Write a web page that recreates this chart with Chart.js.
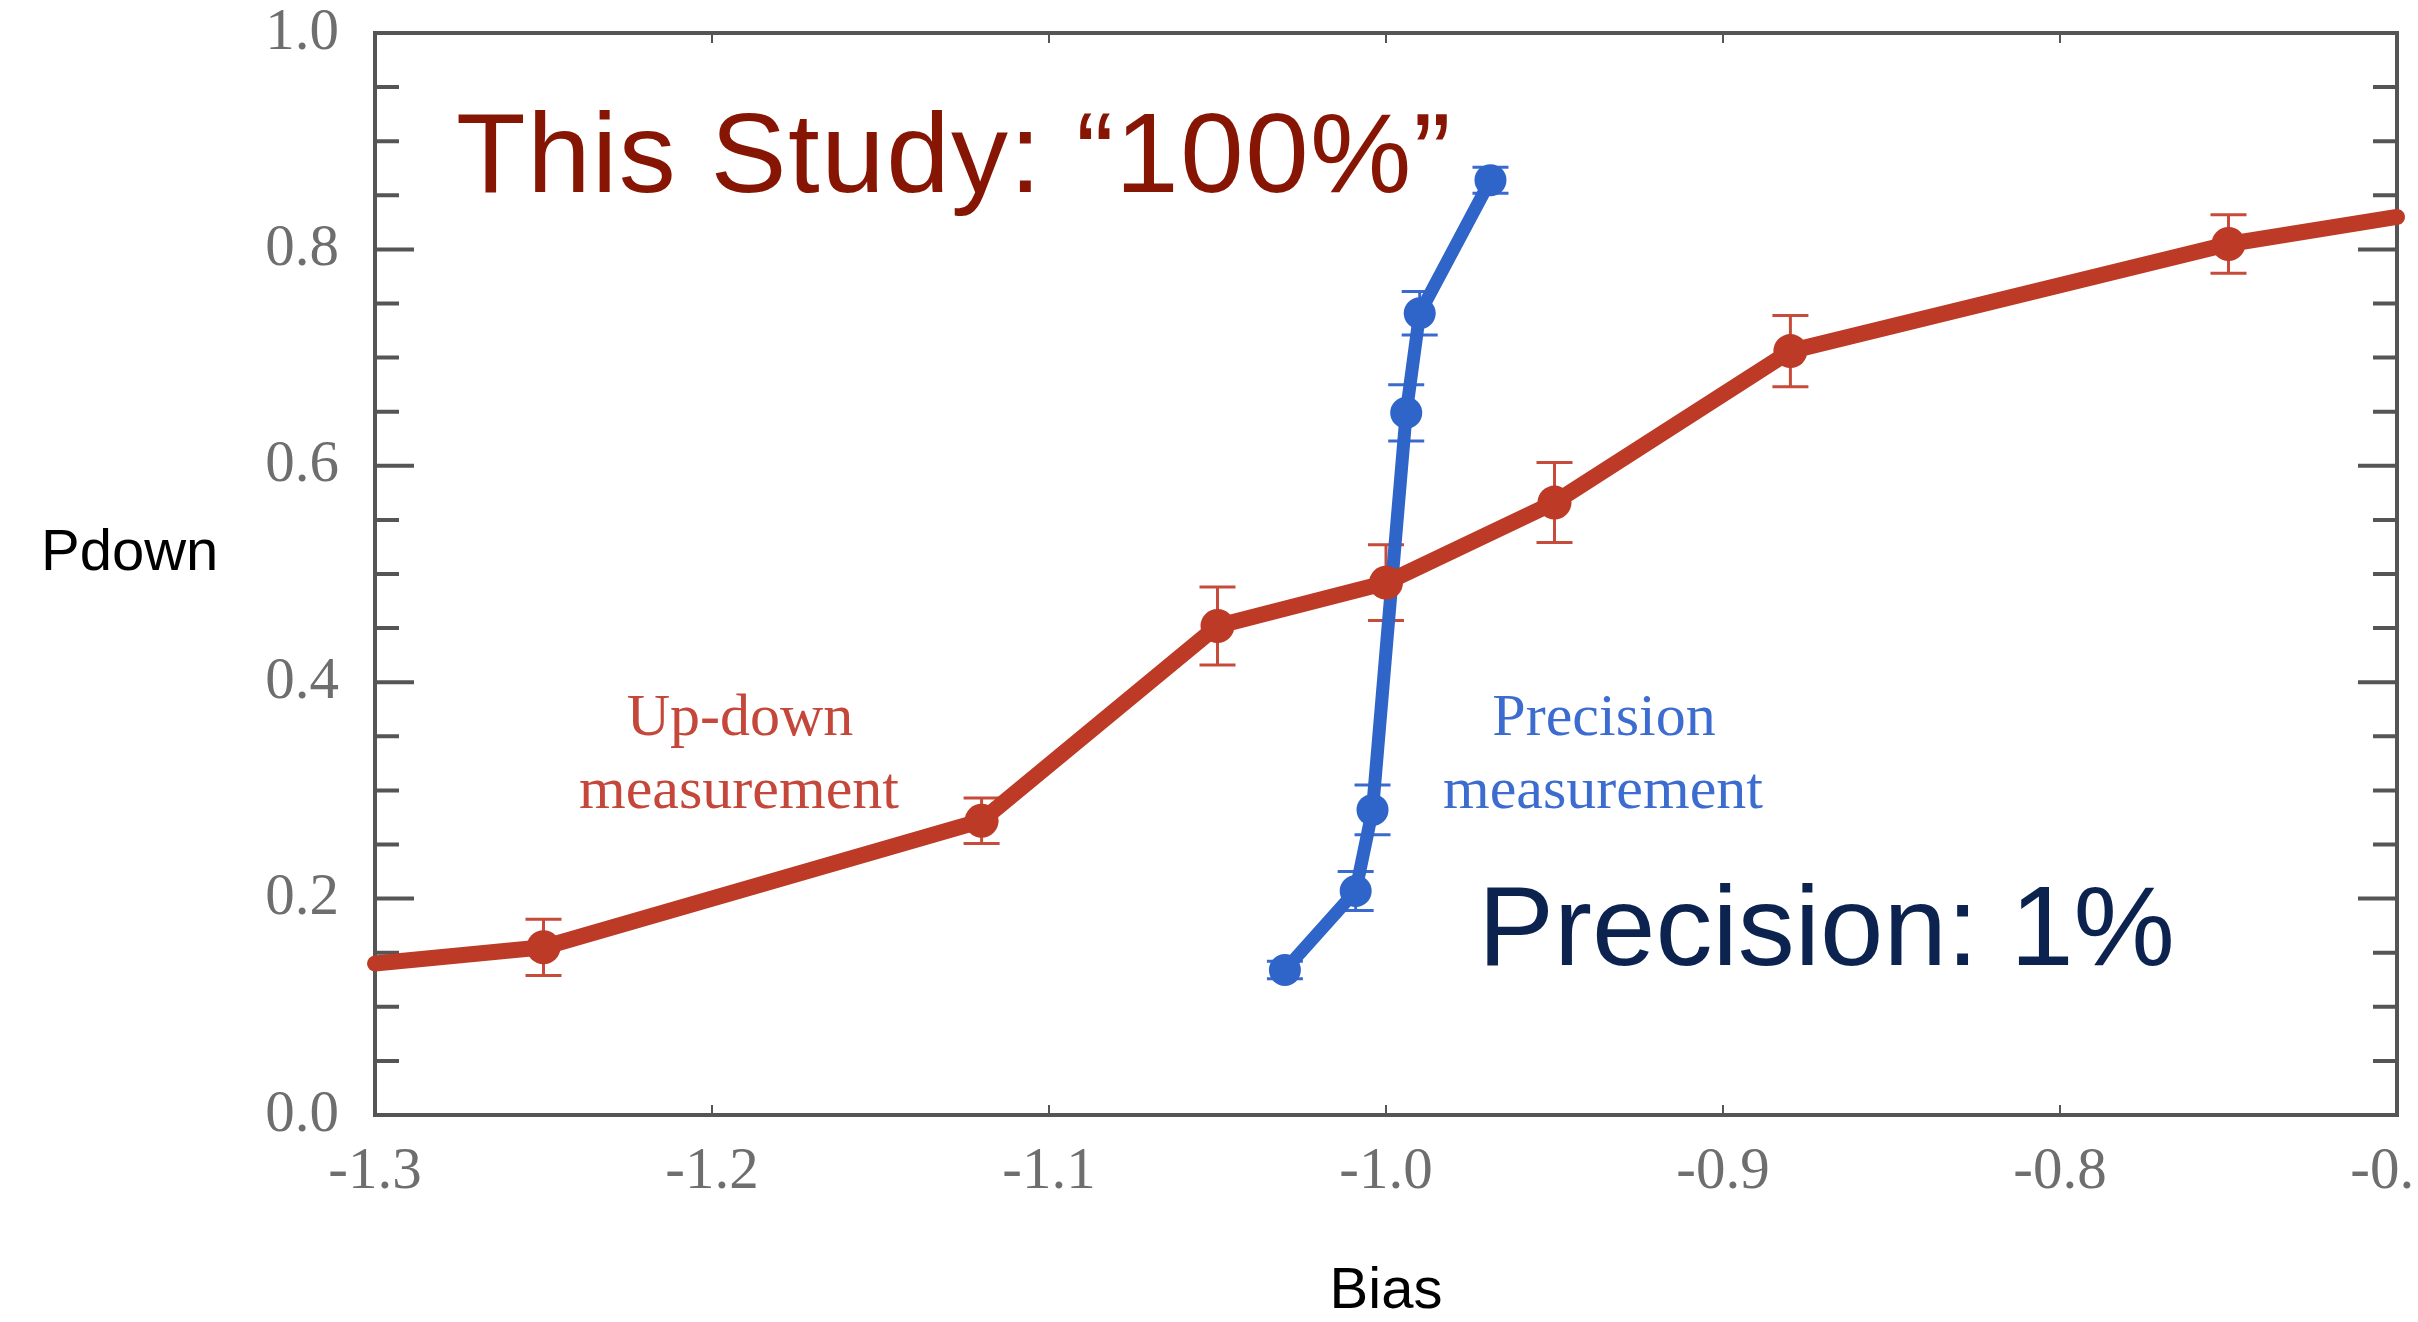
<!DOCTYPE html>
<html>
<head>
<meta charset="utf-8">
<title>Pdown vs Bias</title>
<script src="https://cdn.jsdelivr.net/npm/chart.js@4.4.1/dist/chart.umd.min.js"></script>
<style>
  html, body { margin: 0; padding: 0; background: #fff; overflow: hidden; }
  #chart { display: block; }
</style>
</head>
<body>
<canvas id="chart" width="2418" height="1322"></canvas>
<script>
// values
const upDownBias  = [-1.3, -1.25, -1.12, -1.05, -1.0, -0.95, -0.88, -0.75, -0.7];
const upDownPdown = [0.14, 0.155, 0.272, 0.452, 0.492, 0.566, 0.706, 0.805, 0.83];
const upDownErr   = [0, 0.026, 0.021, 0.036, 0.035, 0.037, 0.033, 0.027, 0];

const precisionBias  = [-1.03, -1.009, -1.004, -0.994, -0.99, -0.969];
const precisionPdown = [0.134, 0.207, 0.282, 0.649, 0.741, 0.864];
const precisionErr   = [0.008, 0.018, 0.023, 0.026, 0.02, 0.012];

const xTickLabels = ['-1.3', '-1.2', '-1.1', '-1.0', '-0.9', '-0.8', '-0.7'];
const yTickLabels = ['0.0', '0.2', '0.4', '0.6', '0.8', '1.0'];

const RED = '#bc3a26';
const RED_ERR = '#c64b3a';
const BLUE = '#2f65c8';
const BLUE_ERR = '#3a6ad0';
const AXIS = '#555555';
const TICK_TEXT = '#6e6e6e';

const toPoints = (xs, ys) => xs.map((v, i) => ({x: v, y: ys[i]}));

// vertical error bars with caps, drawn through the chart scales
function drawErrors(ctx, xs, ys, xVals, yVals, errs, color) {
    ctx.strokeStyle = color;
    ctx.lineWidth = 3;
    xVals.forEach((xv, i) => {
        if (!errs[i]) {
            return;
        }
        const px = xs.getPixelForValue(xv);
        const top = ys.getPixelForValue(yVals[i] + errs[i]);
        const bot = ys.getPixelForValue(yVals[i] - errs[i]);
        ctx.beginPath();
        ctx.moveTo(px, top);
        ctx.lineTo(px, bot);
        ctx.moveTo(px - 18, top);
        ctx.lineTo(px + 18, top);
        ctx.moveTo(px - 18, bot);
        ctx.lineTo(px + 18, bot);
        ctx.stroke();
    });
}

const framePlugin = {
    id: 'frame',
    beforeDatasetsDraw(chart) {
        const {ctx, chartArea: a, scales: {x, y}} = chart;
        ctx.save();
        ctx.strokeStyle = AXIS;
        ctx.lineWidth = 4;
        ctx.strokeRect(a.left, a.top, a.right - a.left, a.bottom - a.top);

        // y ticks point inward, on both sides
        ctx.lineWidth = 4;
        y.ticks.forEach((t, i) => {
            const py = y.getPixelForValue(t.value);
            const len = i % 4 === 0 ? 39 : 24;
            ctx.beginPath();
            ctx.moveTo(a.left, py);
            ctx.lineTo(a.left + len, py);
            ctx.moveTo(a.right, py);
            ctx.lineTo(a.right - len, py);
            ctx.stroke();
        });

        // small x ticks, top and bottom
        ctx.lineWidth = 2;
        x.ticks.forEach((t) => {
            const px = x.getPixelForValue(t.value);
            ctx.beginPath();
            ctx.moveTo(px, a.bottom);
            ctx.lineTo(px, a.bottom - 10);
            ctx.moveTo(px, a.top);
            ctx.lineTo(px, a.top + 10);
            ctx.stroke();
        });

        drawErrors(ctx, x, y, upDownBias, upDownPdown, upDownErr, RED_ERR);
        drawErrors(ctx, x, y, precisionBias, precisionPdown, precisionErr, BLUE_ERR);
        ctx.restore();
    },
    afterDraw(chart) {
        const ctx = chart.ctx;
        ctx.save();
        ctx.textBaseline = 'alphabetic';

        ctx.textAlign = 'left';
        ctx.font = '114px "Liberation Sans"';
        ctx.fillStyle = '#861503';
        ctx.letterSpacing = '1.5px';
        ctx.fillText('This Study: \u201c100%\u201d', 456, 192);
        ctx.letterSpacing = '0px';
        ctx.fillStyle = '#0c2350';
        ctx.fillText('Precision: 1%', 1478, 965);

        ctx.font = '58px "Liberation Sans"';
        ctx.fillStyle = '#000';
        ctx.fillText('Pdown', 41, 570);

        ctx.textAlign = 'center';
        ctx.font = '60px "Liberation Serif"';
        ctx.fillStyle = '#c4473a';
        ctx.fillText('Up-down', 740, 735);
        ctx.fillText('measurement', 739, 808);
        ctx.fillStyle = '#3d6cd1';
        ctx.fillText('Precision', 1604, 735);
        ctx.fillText('measurement', 1603, 808);
        ctx.restore();
    }
};

const tickFont = {family: 'Liberation Serif', size: 59};

const chart = new Chart(document.getElementById('chart'), {
    type: 'line',
    data: {
        datasets: [
            {
                label: 'Up-down measurement',
                data: toPoints(upDownBias, upDownPdown),
                borderColor: RED,
                backgroundColor: RED,
                borderWidth: 16,
                borderCapStyle: 'round',
                borderJoinStyle: 'round',
                pointRadius: [0, 17, 17, 17, 17, 17, 17, 17, 0],
                pointBorderWidth: 0,
                tension: 0,
                clip: false,
            },
            {
                label: 'Precision measurement',
                data: toPoints(precisionBias, precisionPdown),
                borderColor: BLUE,
                backgroundColor: BLUE,
                borderWidth: 13,
                borderCapStyle: 'round',
                borderJoinStyle: 'round',
                pointRadius: 16,
                pointBorderWidth: 0,
                tension: 0,
                clip: false,
            },
        ],
    },
    options: {
        responsive: false,
        animation: false,
        devicePixelRatio: 1,
        layout: {padding: {left: 0, top: 33, right: 21, bottom: 0}},
        plugins: {
            legend: {display: false},
            tooltip: {enabled: false},
        },
        scales: {
            x: {
                type: 'linear',
                position: 'bottom',
                min: -1.3,
                max: -0.7,
                border: {display: false},
                grid: {display: false, drawTicks: false},
                ticks: {
                    stepSize: 0.1,
                    autoSkip: false,
                    maxRotation: 0,
                    padding: 22,
                    color: TICK_TEXT,
                    font: tickFont,
                    callback: (value, index) => xTickLabels[index],
                },
                title: {
                    display: true,
                    text: 'Bias',
                    color: '#000',
                    font: {family: 'Liberation Sans', size: 58, lineHeight: 1},
                    padding: {top: 0, bottom: 1},
                },
                afterFit: (scale) => {
                    scale.height = 207;
                    scale.paddingLeft = 0;
                    scale.paddingRight = 0;
                },
            },
            y: {
                type: 'linear',
                min: 0,
                max: 1,
                border: {display: false},
                grid: {display: false, drawTicks: false},
                ticks: {
                    stepSize: 0.05,
                    autoSkip: false,
                    padding: 36,
                    color: TICK_TEXT,
                    font: tickFont,
                    callback: (value, index) => (index % 4 === 0 ? yTickLabels[index / 4] : ''),
                },
                afterFit: (scale) => {
                    scale.width = 375;
                    scale.paddingTop = 0;
                    scale.paddingBottom = 0;
                },
            },
        },
    },
    plugins: [framePlugin],
});
</script>
</body>
</html>
